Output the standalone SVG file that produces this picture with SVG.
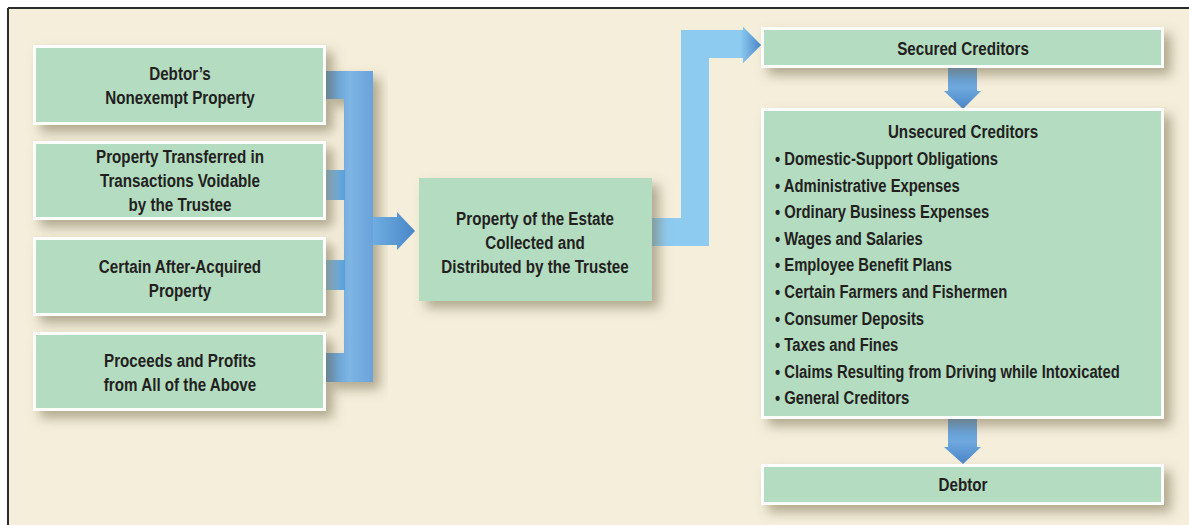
<svg xmlns="http://www.w3.org/2000/svg" width="1189" height="525" viewBox="0 0 1189 525">
<defs>
<style>
.box{fill:#b3dcc0;stroke:#ffffff;stroke-width:3}
.cbox{fill:#b3dcc0}
.t{font-family:"Liberation Sans",Arial,sans-serif;font-weight:bold;font-size:19px;fill:#231f20;text-anchor:middle}
.l{font-family:"Liberation Sans",Arial,sans-serif;font-weight:bold;font-size:19px;fill:#231f20}
</style>
<filter id="sh" x="-20%" y="-30%" width="150%" height="180%">
<feDropShadow dx="7" dy="7" stdDeviation="6" flood-color="#7a6e50" flood-opacity="0.55"/>
</filter>
<linearGradient id="bl" x1="0" y1="0" x2="1" y2="0">
<stop offset="0" stop-color="#5d9bd6"/>
<stop offset="0.5" stop-color="#7db5e3"/>
<stop offset="1" stop-color="#6aa3db"/>
</linearGradient>
<linearGradient id="stub" x1="0" y1="0" x2="1" y2="0">
<stop offset="0" stop-color="#8cc6ee"/>
<stop offset="1" stop-color="#5a9fd9"/>
</linearGradient>
<linearGradient id="arr" x1="0" y1="0" x2="1" y2="0">
<stop offset="0" stop-color="#6eaee2"/>
<stop offset="1" stop-color="#4a86c8"/>
</linearGradient>
<linearGradient id="rarr" x1="0" y1="0" x2="1" y2="0">
<stop offset="0" stop-color="#8ecbf0"/>
<stop offset="0.6" stop-color="#8ecbf0"/>
<stop offset="1" stop-color="#4a86c8"/>
</linearGradient>
<linearGradient id="darr" x1="0" y1="0" x2="0" y2="1">
<stop offset="0" stop-color="#5d9bd6"/>
<stop offset="0.5" stop-color="#6ea8de"/>
<stop offset="1" stop-color="#4a86c8"/>
</linearGradient>
</defs>
<rect x="0" y="0" width="1189" height="525" fill="#ffffff"/>
<rect x="8" y="8" width="1181" height="517" fill="#f4eedb"/>
<line x1="8" y1="8" x2="1189" y2="8" stroke="#2b2b2b" stroke-width="2"/>
<line x1="8" y1="8" x2="8" y2="525" stroke="#2b2b2b" stroke-width="2"/>

<g id="connectors">
<path d="M326,71 H373 V382 H326 V353 H344 V99 H326 Z" fill="url(#bl)" filter="url(#sh)"/>
<rect x="326" y="170" width="19" height="30" fill="url(#stub)"/>
<rect x="326" y="260" width="19" height="30" fill="url(#stub)"/>
<path d="M373,217 H397 V212 L415,231 L397,250 V245 H373 Z" fill="url(#arr)"/>
<path d="M652,218 H681 V30 H743 V27 L761,45 L743,63 V58 H709 V246 H652 Z" fill="#8ecbf0"/>
<path d="M709,30 H743 V27 L761,45 L743,63 V58 H709 Z" fill="url(#rarr)"/>
<path d="M948,67 H977 V91 H981 L963,109 L944,91 H948 Z" fill="url(#darr)"/>
<path d="M948,419 H977 V447 H981 L963,464 L944,447 H948 Z" fill="url(#darr)"/>
</g>

<g id="n1" filter="url(#sh)"><rect class="box" x="34.5" y="46.5" width="290" height="77"/></g>
<g id="n1t" transform="translate(180,0) scale(0.8,1)"><text class="t" x="0" y="80">Debtor’s</text><text class="t" x="0" y="104">Nonexempt Property</text></g>

<g id="n2" filter="url(#sh)"><rect class="box" x="34.5" y="142.5" width="290" height="76"/></g>
<g id="n2t" transform="translate(180,0) scale(0.8,1)"><text class="t" x="0" y="163">Property Transferred in</text><text class="t" x="0" y="187">Transactions Voidable</text><text class="t" x="0" y="211">by the Trustee</text></g>

<g id="n3" filter="url(#sh)"><rect class="box" x="34.5" y="238.5" width="290" height="76"/></g>
<g id="n3t" transform="translate(180,0) scale(0.8,1)"><text class="t" x="0" y="273">Certain After-Acquired</text><text class="t" x="0" y="297">Property</text></g>

<g id="n4" filter="url(#sh)"><rect class="box" x="34.5" y="333.5" width="290" height="76"/></g>
<g id="n4t" transform="translate(180,0) scale(0.8,1)"><text class="t" x="0" y="367">Proceeds and Profits</text><text class="t" x="0" y="391">from All of the Above</text></g>

<g id="center" filter="url(#sh)"><rect class="cbox" x="419" y="178" width="233" height="123"/></g>
<g id="centert" transform="translate(535,0) scale(0.8,1)"><text class="t" x="0" y="225">Property of the Estate</text><text class="t" x="0" y="249">Collected and</text><text class="t" x="0" y="273">Distributed by the Trustee</text></g>

<g id="secured" filter="url(#sh)"><rect class="box" x="762.5" y="28.5" width="400" height="38"/></g>
<g id="securedt" transform="translate(963,0) scale(0.8,1)"><text class="t" x="0" y="55">Secured Creditors</text></g>

<g id="unsecured" filter="url(#sh)"><rect class="box" x="762.5" y="109.5" width="400" height="308"/></g>
<g id="unsecuredt">
<g transform="translate(963,0) scale(0.8,1)"><text class="t" x="0" y="138">Unsecured Creditors</text></g>
<g transform="translate(775,0) scale(0.78,1)">
<text class="l" x="0" y="165">• Domestic-Support Obligations</text>
<text class="l" x="0" y="191.6">• Administrative Expenses</text>
<text class="l" x="0" y="218.2">• Ordinary Business Expenses</text>
<text class="l" x="0" y="244.8">• Wages and Salaries</text>
<text class="l" x="0" y="271.4">• Employee Benefit Plans</text>
<text class="l" x="0" y="298">• Certain Farmers and Fishermen</text>
<text class="l" x="0" y="324.6">• Consumer Deposits</text>
<text class="l" x="0" y="351.2">• Taxes and Fines</text>
<text class="l" x="0" y="377.8">• Claims Resulting from Driving while Intoxicated</text>
<text class="l" x="0" y="404.4">• General Creditors</text>
</g>
</g>

<g id="debtor" filter="url(#sh)"><rect class="box" x="762.5" y="465.5" width="400" height="38"/></g>
<g id="debtort" transform="translate(963,0) scale(0.8,1)"><text class="t" x="0" y="491">Debtor</text></g>
</svg>
